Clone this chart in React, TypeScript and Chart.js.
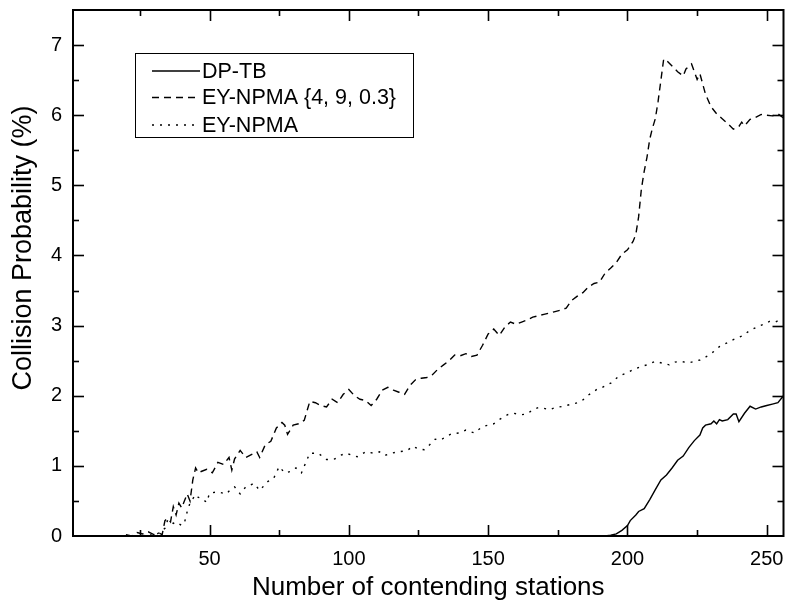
import React, { useEffect, useRef } from "react";
import { Chart, registerables } from "chart.js";

Chart.register(...registerables);

const FONT = "'Liberation Sans', Arial, Helvetica, sans-serif";

// ---- data ----
const seriesLabels = ["DP-TB", "EY-NPMA {4, 9, 0.3}", "EY-NPMA"];

const dptbX = [
  190, 192, 194, 196, 198, 200, 201, 203, 204, 206,
  208, 210, 212, 214, 216, 218, 220, 222, 224, 226,
  227, 228, 230, 231, 232, 233, 234, 236, 238, 239,
  240, 242, 244, 246, 248, 250, 252, 254, 256,
];
const dptbY = [
  0, 0, 0.01, 0.03, 0.08, 0.15, 0.22, 0.3, 0.35, 0.39,
  0.52, 0.66, 0.8, 0.87, 0.97, 1.08, 1.14, 1.26, 1.36, 1.44,
  1.54, 1.58, 1.6, 1.64, 1.6, 1.66, 1.64, 1.66, 1.74, 1.74,
  1.63, 1.75, 1.85, 1.81, 1.84, 1.86, 1.88, 1.9, 2.0,
];

const eyParamX = [
  20, 22, 24, 26, 28, 30, 32, 33, 34, 35,
  36, 37, 38, 39, 40, 42, 43, 44, 45, 46,
  47, 49, 51, 53, 55, 57, 58, 59, 61, 63,
  65, 67, 68, 70, 72, 74, 76, 77, 78, 80,
  82, 84, 86, 88, 90, 92, 94, 96, 98, 100,
  102, 104, 106, 108, 110, 112, 114, 116, 118, 120,
  122, 124, 126, 128, 130, 132, 134, 136, 138, 140,
  142, 144, 146, 148, 150, 152, 154, 156, 158, 160,
  162, 164, 166, 168, 170, 172, 174, 176, 178, 180,
  182, 184, 186, 188, 190, 192, 194, 196, 198, 200,
  202, 203, 204, 205, 206, 207, 208, 209, 210, 211,
  212, 213, 214, 216, 218, 220, 221, 223, 225, 226,
  228, 230, 232, 234, 236, 238, 240, 241, 242, 244,
  246, 248, 250, 252, 254, 256,
];
const eyParamY = [
  0.02, 0.0, 0.05, 0.03, 0.06, 0.02, 0.04, 0.02, 0.22, 0.25,
  0.2, 0.42, 0.3, 0.47, 0.4, 0.6, 0.5, 0.8, 0.97, 0.9,
  0.92, 0.95, 0.9, 1.05, 1.02, 1.12, 0.94, 1.1, 1.22, 1.12,
  1.16, 1.2, 1.12, 1.3, 1.35, 1.54, 1.62, 1.58, 1.45, 1.58,
  1.6, 1.65, 1.92, 1.9, 1.86, 1.84, 1.95, 1.9, 2.02, 2.09,
  2.0, 1.95, 1.93, 1.86, 1.95, 2.08, 2.12, 2.08, 2.05, 2.02,
  2.15, 2.23, 2.25, 2.26, 2.3, 2.38, 2.44, 2.5, 2.58, 2.57,
  2.6, 2.56, 2.58, 2.72, 2.88, 2.95, 2.86, 2.98, 3.05, 3.02,
  3.05, 3.08, 3.12, 3.14, 3.16, 3.18, 3.2, 3.22, 3.25, 3.36,
  3.42, 3.47, 3.55, 3.6, 3.62, 3.75, 3.82, 3.9, 4.02, 4.08,
  4.2, 4.3, 4.55, 4.95, 5.2, 5.4, 5.66, 5.82, 5.95, 6.2,
  6.5, 6.8, 6.78, 6.7, 6.62, 6.56, 6.66, 6.73, 6.51, 6.59,
  6.3, 6.12, 6.02, 5.95, 5.88, 5.8, 5.84, 5.9, 5.85, 5.94,
  5.97, 6.01, 6.0, 5.99, 6.02, 5.96,
];

const eyX = [
  26, 28, 30, 32, 34, 35, 37, 38, 40, 41,
  42, 43, 45, 46, 47, 49, 50, 53, 56, 58,
  59, 61, 63, 66, 68, 71, 73, 75, 77, 79,
  81, 83, 85, 86, 89, 92, 95, 97, 99, 103,
  106, 109, 111, 113, 115, 118, 121, 123, 125, 127,
  129, 131, 133, 135, 137, 140, 142, 145, 148, 150,
  152, 154, 157, 159, 162, 164, 166, 168, 170, 172,
  174, 177, 180, 182, 184, 186, 189, 191, 194, 197,
  200, 202, 205, 207, 210, 213, 215, 217, 219, 222,
  226, 228, 231, 233, 236, 238, 241, 244, 247, 249,
  251, 253, 255, 256,
];
const eyY = [
  0.0, 0.03, 0.0, 0.05, 0.11, 0.23, 0.18, 0.2, 0.15, 0.19,
  0.35, 0.47, 0.59, 0.55, 0.54, 0.48, 0.61, 0.63, 0.6, 0.68,
  0.7, 0.6, 0.7, 0.75, 0.65, 0.78, 0.82, 0.99, 0.9, 0.92,
  0.97, 0.9, 1.09, 1.18, 1.18, 1.09, 1.1, 1.15, 1.18, 1.13,
  1.2, 1.18, 1.2, 1.15, 1.18, 1.2, 1.22, 1.28, 1.24, 1.23,
  1.3, 1.38, 1.37, 1.42, 1.46, 1.47, 1.51, 1.47, 1.56, 1.58,
  1.6, 1.66, 1.73, 1.75, 1.73, 1.74, 1.8, 1.83, 1.82, 1.8,
  1.83, 1.85, 1.88, 1.9, 1.94, 2.01, 2.09, 2.12, 2.18, 2.28,
  2.33, 2.37, 2.42, 2.44, 2.49, 2.46, 2.44, 2.48, 2.49, 2.47,
  2.51, 2.55, 2.63, 2.7, 2.76, 2.8, 2.85, 2.93, 2.99, 3.02,
  3.06, 3.05, 3.09, 3.1,
];

const xTickValues = [50, 100, 150, 200, 250];
const yTickValues = [0, 1, 2, 3, 4, 5, 6, 7];
const X_MIN = 1;
const X_MAX = 256;
const Y_MIN = 0;
const Y_MAX = 7.5;
const X_MINOR_STEP = 25;
const Y_MINOR_STEP = 0.5;

const xTitle = "Number of contending stations";
const yTitle = "Collision Probability (%)";

const dashPatterns = [[], [7, 5], [2, 6]];

// ---- plugins ----
const frameTicks = {
  id: "frameTicks",
  afterDatasetsDraw(chart: any) {
    const { ctx, chartArea: a, scales } = chart;
    const x = scales.x;
    const y = scales.y;
    ctx.save();
    ctx.strokeStyle = "#000";
    ctx.lineWidth = 1.6;
    ctx.setLineDash([]);
    const seg = (x1: number, y1: number, x2: number, y2: number) => {
      ctx.beginPath();
      ctx.moveTo(x1, y1);
      ctx.lineTo(x2, y2);
      ctx.stroke();
    };
    for (let v = X_MINOR_STEP; v <= X_MAX; v += X_MINOR_STEP) {
      const px = Math.round(x.getPixelForValue(v)) + 0.5;
      const len = v % 50 === 0 ? 11 : 6;
      seg(px, a.bottom, px, a.bottom - len);
      seg(px, a.top, px, a.top + len);
    }
    for (let v = Y_MINOR_STEP; v < Y_MAX; v += Y_MINOR_STEP) {
      const py = Math.round(y.getPixelForValue(v)) + 0.5;
      const len = Math.abs(v - Math.round(v)) < 1e-6 ? 11 : 6;
      seg(a.left, py, a.left + len, py);
      seg(a.right, py, a.right - len, py);
    }
    ctx.lineWidth = 2;
    ctx.strokeRect(a.left, a.top, a.right - a.left, a.bottom - a.top);
    ctx.restore();
  },
};

const legendAndTitle = {
  id: "legendAndTitle",
  afterDraw(chart: any) {
    const { ctx, chartArea: a } = chart;
    ctx.save();
    // y-axis title
    ctx.translate(a.left - 49, 248);
    ctx.rotate(-Math.PI / 2);
    ctx.fillStyle = "#000";
    ctx.font = `27px ${FONT}`;
    ctx.textAlign = "center";
    ctx.textBaseline = "middle";
    ctx.fillText(yTitle, 0, 0);
    ctx.restore();

    // legend box
    ctx.save();
    const bx = 135.5;
    const by = 53.5;
    const bw = 278;
    const bh = 84;
    ctx.fillStyle = "#fff";
    ctx.fillRect(bx, by, bw, bh);
    ctx.strokeStyle = "#000";
    ctx.lineWidth = 1;
    ctx.strokeRect(bx, by, bw, bh);
    const rows = [71, 97.5, 125];
    chart.data.datasets.forEach((ds: any, i: number) => {
      const ry = rows[i];
      ctx.strokeStyle = "#000";
      ctx.lineWidth = ds.borderWidth;
      ctx.setLineDash(ds.borderDash || []);
      ctx.beginPath();
      ctx.moveTo(152, ry);
      ctx.lineTo(200, ry);
      ctx.stroke();
      ctx.setLineDash([]);
      ctx.fillStyle = "#000";
      ctx.font = `21.5px ${FONT}`;
      ctx.textAlign = "left";
      ctx.textBaseline = "middle";
      ctx.fillText(ds.label, 202, ry + 1);
    });
    ctx.restore();
  },
};

function toPoints(xs: number[], ys: number[]) {
  return xs.map((x, i) => ({ x, y: ys[i] }));
}

export default function App() {
  const ref = useRef<HTMLCanvasElement | null>(null);

  useEffect(() => {
    if (!ref.current) return;
    const makeDs = (label: string, xs: number[], ys: number[], dash: number[]) => ({
      label,
      data: toPoints(xs, ys),
      borderColor: "#000",
      backgroundColor: "#000",
      borderWidth: 1.4,
      borderDash: dash,
      pointRadius: 0,
      tension: 0,
      fill: false,
    });
    const chart = new Chart(ref.current, {
      type: "line",
      data: {
        datasets: [
          makeDs(seriesLabels[0], dptbX, dptbY, dashPatterns[0]),
          makeDs(seriesLabels[1], eyParamX, eyParamY, dashPatterns[1]),
          makeDs(seriesLabels[2], eyX, eyY, dashPatterns[2]),
        ],
      },
      options: {
        animation: false,
        responsive: false,
        maintainAspectRatio: false,
        parsing: true,
        layout: { padding: { top: 10, right: 3.5, left: 0, bottom: 0 } },
        plugins: {
          legend: { display: false },
          tooltip: { enabled: false },
          title: { display: false },
        },
        scales: {
          x: {
            type: "linear",
            min: X_MIN,
            max: X_MAX,
            grid: { display: false, drawTicks: false },
            border: { display: false },
            afterBuildTicks: (s: any) => {
              s.ticks = xTickValues.map((v) => ({ value: v }));
            },
            afterFit: (s: any) => {
              s.height = 71;
              s.paddingLeft = 0;
              s.paddingRight = 0;
              s.paddingTop = 0;
              s.paddingBottom = 0;
            },
            ticks: {
              color: "#000",
              font: { family: FONT, size: 20 },
              padding: 11,
              maxRotation: 0,
              autoSkip: false,
              callback: (v: any) => String(v),
            },
            title: {
              display: true,
              text: xTitle,
              color: "#000",
              font: { family: FONT, size: 26 },
              padding: { top: 0, bottom: 4 },
            },
          },
          y: {
            type: "linear",
            min: Y_MIN,
            max: Y_MAX,
            grid: { display: false, drawTicks: false },
            border: { display: false },
            afterBuildTicks: (s: any) => {
              s.ticks = yTickValues.map((v) => ({ value: v }));
            },
            afterFit: (s: any) => {
              s.width = 73;
              s.paddingLeft = 0;
              s.paddingRight = 0;
              s.paddingTop = 0;
              s.paddingBottom = 0;
            },
            ticks: {
              color: "#000",
              font: { family: FONT, size: 20 },
              padding: 11,
              autoSkip: false,
              callback: (v: any) => String(v),
            },
          },
        },
      },
      plugins: [frameTicks, legendAndTitle],
    } as any);
    return () => chart.destroy();
  }, []);

  return (
    <div style={{ position: "absolute", left: 0, top: 0, width: 787, height: 607, background: "#fff" }}>
      <canvas ref={ref} width={787} height={607} style={{ display: "block", width: 787, height: 607 }} />
    </div>
  );
}
